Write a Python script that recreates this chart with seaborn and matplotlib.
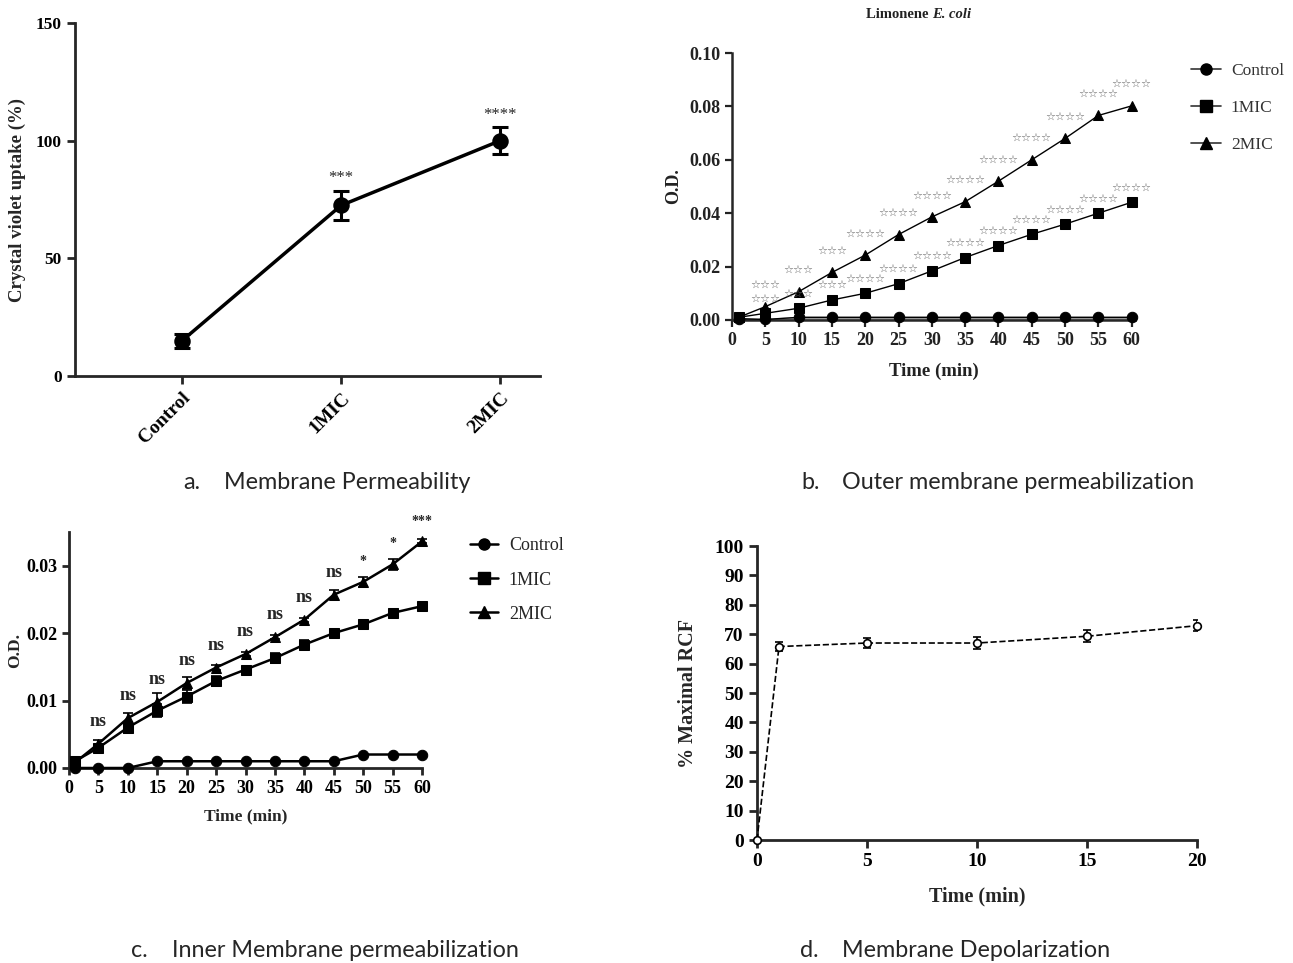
import matplotlib
matplotlib.use("Agg")
import matplotlib.pyplot as plt
import matplotlib.ticker as mticker
from matplotlib.lines import Line2D
import numpy as np
import pandas as pd
import seaborn as sns

# ---------------- data ----------------
# panel a
a_cats = ["Control", "1MIC", "2MIC"]
a_vals = [15.0, 72.5, 100.0]
a_err = [3.0, 6.3, 5.6]
a_sig = ["", "***", "****"]

# panel b
b_time = [1, 5, 10, 15, 20, 25, 30, 35, 40, 45, 50, 55, 60]
b_ctrl = [0.0005, 0.0002, 0.001, 0.001, 0.001, 0.001, 0.001, 0.001, 0.001, 0.001, 0.001, 0.001, 0.001]
b_1mic = [0.001, 0.0025, 0.0044, 0.0075, 0.0100, 0.0136, 0.0184, 0.0234, 0.0279, 0.0321, 0.0359, 0.0400, 0.0441]
b_2mic = [0.001, 0.0050, 0.0106, 0.0178, 0.0243, 0.0320, 0.0386, 0.0443, 0.0520, 0.0600, 0.0680, 0.0766, 0.0802]
b_sig_1mic = ["", "***", "***", "***", "****", "****", "****", "****", "****", "****", "****", "****", "****"]
b_sig_2mic = ["", "***", "***", "***", "****", "****", "****", "****", "****", "****", "****", "****", "****"]

# panel c
c_time = [1, 5, 10, 15, 20, 25, 30, 35, 40, 45, 50, 55, 60]
c_ctrl = [0.0, 0.0, 0.0, 0.001, 0.001, 0.001, 0.001, 0.001, 0.001, 0.001, 0.002, 0.002, 0.002]
c_1mic = [0.0010, 0.0030, 0.0060, 0.0085, 0.0106, 0.0129, 0.0146, 0.0163, 0.0183, 0.0200, 0.0213, 0.0230, 0.0240]
c_1mic_err = [0.0003, 0.0003, 0.0008, 0.0010, 0.0009, 0.0008, 0.0004, 0.0007, 0.0007, 0.0003, 0.0003, 0.0003, 0.0003]
c_2mic = [0.0008, 0.0036, 0.0074, 0.0098, 0.0126, 0.0149, 0.0169, 0.0194, 0.0220, 0.0257, 0.0276, 0.0302, 0.0336]
c_2mic_err = [0.0003, 0.0006, 0.0008, 0.0013, 0.0009, 0.0004, 0.0003, 0.0003, 0.0003, 0.0007, 0.0008, 0.0008, 0.0003]
c_sig = ["", "ns", "ns", "ns", "ns", "ns", "ns", "ns", "ns", "ns", "*", "*", "***"]

# panel d
d_time = [0, 1, 5, 10, 15, 20]
d_vals = [0.0, 65.8, 67.0, 67.0, 69.3, 72.9]
d_err = [0.0, 1.6, 1.7, 2.1, 2.1, 1.8]

legend_labels = ["Control", "1MIC", "2MIC"]
captions = [("a.", "Membrane Permeability"), ("b.", "Outer membrane permeabilization"),
            ("c.", "Inner Membrane permeabilization"), ("d.", "Membrane Depolarization")]

# ---------------- style ----------------
sns.set_style("ticks")
SERIF = ["Liberation Serif", "DejaVu Serif"]
plt.rcParams["font.family"] = SERIF
plt.rcParams["axes.linewidth"] = 2
plt.rcParams["xtick.major.width"] = 2
plt.rcParams["ytick.major.width"] = 2
plt.rcParams["xtick.major.size"] = 6
plt.rcParams["ytick.major.size"] = 6

W, H = 1293, 963
fig = plt.figure(figsize=(W / 100, H / 100), dpi=100)


def axes_px(x0, x1, ytop, ybot):
    return fig.add_axes([x0 / W, 1 - ybot / H, (x1 - x0) / W, (ybot - ytop) / H])


def style_axes(ax, fs, color="black"):
    sns.despine(ax=ax)
    for lab in ax.get_xticklabels() + ax.get_yticklabels():
        lab.set_fontweight("bold")
        lab.set_fontsize(fs)
        lab.set_color(color)


# ---------------- panel a ----------------
axa = axes_px(75, 540, 23, 376)
dfa = pd.DataFrame({"cat": a_cats, "val": a_vals})
sns.pointplot(data=dfa, x="cat", y="val", color="black", errorbar=None,
              markersize=10, linewidth=2.5, ax=axa)
axa.errorbar(range(len(a_cats)), a_vals, yerr=a_err, fmt="none", ecolor="black",
             elinewidth=2.2, capsize=6, capthick=2.2)
for i, s in enumerate(a_sig):
    if s:
        axa.annotate(s, (i, a_vals[i] + a_err[i]), xytext=(0, 3), textcoords="offset points",
                     ha="center", va="bottom", fontsize=12)
axa.set_xlim(-0.673, 2.25)
axa.set_ylim(0, 150)
axa.set_yticks([0, 50, 100, 150])
axa.set_xlabel("")
axa.set_ylabel("Crystal violet uptake (%)", fontsize=13.5, fontweight="bold", labelpad=7)
style_axes(axa, 12.5)
for lab in axa.get_xticklabels():
    lab.set_rotation(45)
    lab.set_ha("right")
    lab.set_rotation_mode("anchor")
    lab.set_fontsize(14)

# ---------------- panel b ----------------
axb = axes_px(732, 1135, 53, 320)
gray = "#333333"
axb.fill_between(b_time, np.array(b_ctrl) - 0.0009, np.array(b_ctrl) + 0.0004,
                 color="#9a9a9a", lw=0, zorder=1)
for y, m in [(b_ctrl, "o"), (b_1mic, "s"), (b_2mic, "^")]:
    sns.lineplot(x=b_time, y=y, marker=m, markersize=7.5, color="black", linewidth=1.0,
                 markeredgecolor="black", ax=axb, clip_on=False, zorder=3)
for series, sigs, off in [(b_2mic, b_sig_2mic, 12), (b_1mic, b_sig_1mic, 7)]:
    for t, v, s in zip(b_time, series, sigs):
        if s:
            axb.annotate("☆" * len(s), (t, v), xytext=(0, off), textcoords="offset points",
                         ha="center", va="bottom", fontsize=8, color="#666666",
                         family="DejaVu Sans")
axb.set_xlim(0, 60.5)
axb.set_ylim(0, 0.10)
axb.set_xticks(range(0, 61, 5))
axb.set_yticks(np.arange(0, 0.101, 0.02))
axb.yaxis.set_major_formatter(mticker.FormatStrFormatter("%.2f"))
axb.tick_params(width=1.6, length=5, colors="#222222")
for sp in axb.spines.values():
    sp.set_linewidth(1.8)
axb.set_xlabel("Time (min)", fontsize=13.5, fontweight="bold", color="#222222", labelpad=10)
axb.set_ylabel("O.D.", fontsize=13, fontweight="bold", color="#222222", labelpad=5)
style_axes(axb, 13, "#222222")
fig.text(0.721, 1 - 15 / H, "Limonene ", ha="right", va="center", fontsize=10.5,
         fontweight="bold", color="#222222")
fig.text(0.721, 1 - 15 / H, "E. coli", ha="left", va="center", fontsize=10.5,
         fontweight="bold", style="italic", color="#222222")
hb = [Line2D([], [], color=gray, lw=1.2, marker=m, markersize=8, markerfacecolor="black",
             markeredgecolor="black") for m in ["o", "s", "^"]]
axb.legend(hb, legend_labels, loc="center left", bbox_to_anchor=(1191 / W, 1 - 108 / H),
           bbox_transform=fig.transFigure, frameon=False, fontsize=12.5, labelspacing=1.2,
           handlelength=1.75, handletextpad=0.55, borderpad=0, borderaxespad=0,
           labelcolor="#333333")

# ---------------- panel c ----------------
axc = axes_px(69, 422, 532, 768)
for y, e, m in [(c_ctrl, None, "o"), (c_1mic, c_1mic_err, "s"), (c_2mic, c_2mic_err, "^")]:
    sns.lineplot(x=c_time, y=y, marker=m, markersize=7.5, color="black", linewidth=1.8,
                 markeredgecolor="black", ax=axc, clip_on=False, zorder=3)
    if e is not None:
        axc.errorbar(c_time, y, yerr=e, fmt="none", ecolor="black", elinewidth=1.2,
                     capsize=3.5, capthick=1.2, clip_on=False, zorder=2)
for t, v, e, s in zip(c_time, c_2mic, c_2mic_err, c_sig):
    if s:
        axc.annotate(s, (t, v), xytext=(0, 10), textcoords="offset points",
                     ha="center", va="bottom", fontsize=13 if s == "ns" else 10,
                     fontweight="bold")
axc.set_xlim(0, 60)
axc.set_ylim(0, 0.035)
axc.set_xticks(range(0, 61, 5))
axc.set_yticks([0, 0.01, 0.02, 0.03])
axc.yaxis.set_major_formatter(mticker.FormatStrFormatter("%.2f"))
axc.tick_params(width=2, length=5)
axc.set_xlabel("Time (min)", fontsize=12.5, fontweight="bold", labelpad=8)
axc.set_ylabel("O.D.", fontsize=12.5, fontweight="bold", labelpad=2)
style_axes(axc, 13)
hc = [Line2D([], [], color="black", lw=1.8, marker=m, markersize=8) for m in ["o", "s", "^"]]
axc.legend(hc, legend_labels, loc="center left", bbox_to_anchor=(470 / W, 1 - 580 / H),
           bbox_transform=fig.transFigure, frameon=False, fontsize=13, labelspacing=0.95,
           handlelength=1.55, handletextpad=0.6, borderpad=0, borderaxespad=0)

# ---------------- panel d ----------------
axd = axes_px(757, 1197, 546, 840)
axd.errorbar(d_time, d_vals, yerr=d_err, fmt="none", ecolor="black", elinewidth=1.2,
             capsize=3, capthick=1.2, zorder=2)
sns.lineplot(x=d_time, y=d_vals, marker="o", markersize=5.5, color="black", linewidth=1.2,
             linestyle="--", markerfacecolor="white", markeredgecolor="black",
             markeredgewidth=1.2, ax=axd, clip_on=False, zorder=3)
axd.set_xlim(0, 20)
axd.set_ylim(0, 100)
axd.set_xticks([0, 5, 10, 15, 20])
axd.set_yticks(range(0, 101, 10))
axd.tick_params(width=2, length=6)
axd.set_xlabel("Time (min)", fontsize=14.5, fontweight="bold", labelpad=12)
axd.set_ylabel("% Maximal RCF", fontsize=14.5, fontweight="bold", labelpad=12)
style_axes(axd, 14)

# ---------------- captions ----------------
cap_pos = [(183, 224, 482), (801, 842, 482), (131, 172, 950), (800, 842, 950)]
for (lab, txt), (x1, x2, y) in zip(captions, cap_pos):
    fig.text(x1 / W, 1 - y / H, lab, ha="left", va="center", fontsize=16.8, family=["Lato", "DejaVu Sans"])
    fig.text(x2 / W, 1 - y / H, txt, ha="left", va="center", fontsize=16.8, family=["Lato", "DejaVu Sans"])

fig.savefig("out.png", dpi=100)
